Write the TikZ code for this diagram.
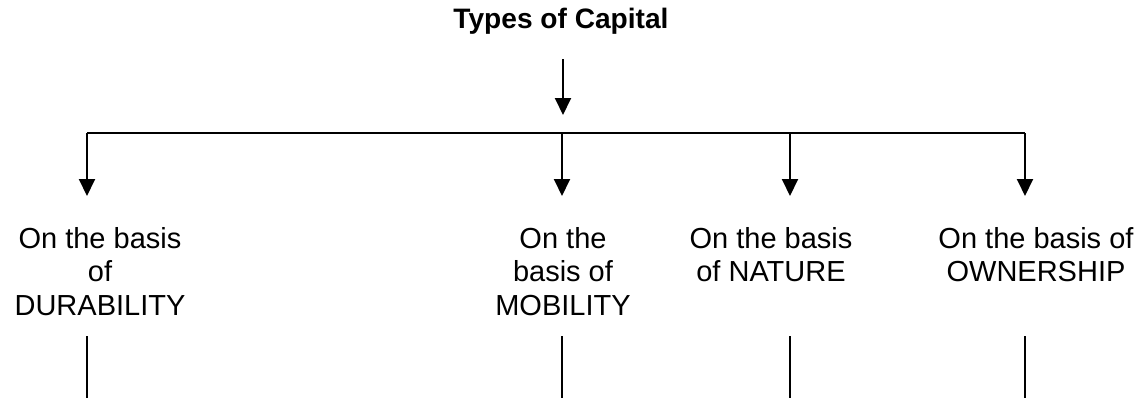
\documentclass[tikz,border=0pt]{standalone}
\usepackage{fontspec}
\setmainfont{Liberation Sans}
\usetikzlibrary{arrows.meta,positioning,calc}
\tikzset{
  >=Stealth,
  arr/.style={-{Triangle[width=0.32cm,length=0.34cm]}, line width=1.1pt},
  bus/.style={line width=0.8pt},
  stub/.style={line width=0.6pt},
  basis/.style={align=center, inner sep=0pt, font=\fontsize{16.5}{19.1}\selectfont},
  ttl/.style={inner sep=0pt, font=\fontsize{16}{19}\selectfont\bfseries}
}
\begin{document}
\begin{tikzpicture}
    \useasboundingbox (0,0) rectangle (22.88,-7.96);

    % Title
    \node[ttl, anchor=base] (title) at (11.22,-0.56) {Types of Capital};

    % Horizontal bus and its tap points
    \coordinate (hub) at (11.26,-2.66);
    \coordinate (bD) at (1.74,-2.66);
    \coordinate (bM) at (11.24,-2.66);
    \coordinate (bN) at (15.80,-2.66);
    \coordinate (bO) at (20.50,-2.66);
    \draw[bus] (bD) -- (bO);

    % Arrow from title down to bus
    \draw[arr, shorten <=0.5cm, shorten >=0.36cm] (title.south -| hub) -- (hub);

    % Basis nodes
    \node[basis, anchor=north] (dur) at (2.00,-4.54) {On the basis\\of\\DURABILITY};
    \node[basis, anchor=north] (mob) at (11.26,-4.54) {On the\\basis of\\MOBILITY};
    \node[basis, anchor=north] (nat) at (15.42,-4.54) {On the basis\\of NATURE};
    \node[basis, anchor=north] (own) at (20.72,-4.54) {On the basis of\\OWNERSHIP};

    % Branch arrows
    \draw[arr, shorten >=0.62cm] (bD) -- (bD |- dur.north);
    \draw[arr, shorten >=0.62cm] (bM) -- (bM |- mob.north);
    \draw[arr, shorten >=0.62cm] (bN) -- (bN |- nat.north);
    \draw[arr, shorten >=0.62cm] (bO) -- (bO |- own.north);

    % Lines continuing below
    \coordinate (eD) at (1.74,-6.72);
    \coordinate (eM) at (11.24,-6.72);
    \coordinate (eN) at (15.80,-6.72);
    \coordinate (eO) at (20.50,-6.72);
    \draw[stub] (eD) -- ++(0,-1.24);
    \draw[stub, line width=0.8pt] (eM) -- ++(0,-1.24);
    \draw[stub] (eN) -- ++(0,-1.24);
    \draw[stub] (eO) -- ++(0,-1.24);
\end{tikzpicture}
\end{document}
